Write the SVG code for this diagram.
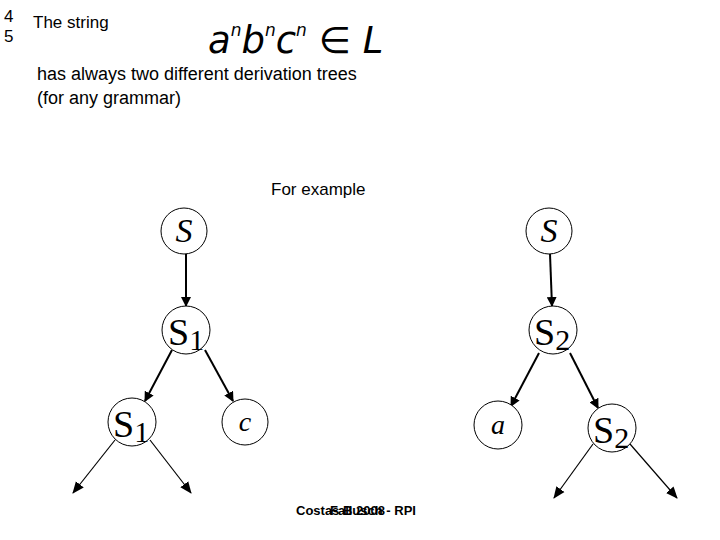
<svg xmlns="http://www.w3.org/2000/svg" width="720" height="540" viewBox="0 0 720 540">
<style>
.t{font-family:"Liberation Sans",Arial,sans-serif;font-size:18px;fill:#000}
.n{fill:#fff;stroke:#000;stroke-width:1}
.m{font-family:"Liberation Serif","Times New Roman",serif;font-style:italic;fill:#000;text-anchor:middle}
.s{font-family:"Liberation Serif","Times New Roman",serif;fill:#000}
.e{stroke:#000;stroke-width:2;fill:none;marker-end:url(#ah)}
.f{stroke:#000;stroke-width:1.2;fill:none;marker-end:url(#ah2)}
.ft{font-family:"Liberation Sans",Arial,sans-serif;font-size:13px;fill:#000;font-weight:bold}
</style>
<defs>
<marker id="ah" markerWidth="10" markerHeight="10" refX="9" refY="5" orient="auto" markerUnits="userSpaceOnUse" viewBox="0 0 10 10"><path d="M0,0 L10,5 L0,10 z" fill="#000"/></marker>
<marker id="ah2" markerWidth="12" markerHeight="12" refX="11" refY="6" orient="auto" markerUnits="userSpaceOnUse" viewBox="0 0 12 12"><path d="M0,1 L12,6 L0,11 z" fill="#000"/></marker>
</defs>
<rect width="720" height="540" fill="#fff"/>
<text class="t" x="4" y="22" style="font-size:17px">4</text>
<text class="t" x="4" y="42" style="font-size:17px">5</text>
<text class="t" x="33" y="28" style="font-size:17px">The string</text>
<text x="208" y="53" style="font-family:'DejaVu Sans',sans-serif;font-size:37px;font-style:italic">a<tspan font-size="17" dy="-17">n</tspan><tspan dy="17">b</tspan><tspan font-size="17" dy="-17">n</tspan><tspan dy="17">c</tspan><tspan font-size="17" dy="-17">n</tspan><tspan dy="17" font-style="normal"> ∈ </tspan>L</text>
<text class="t" x="37" y="80">has always two different derivation trees</text>
<text class="t" x="37" y="104">(for any grammar)</text>
<text class="t" x="271" y="195" style="font-size:17px">For example</text>
<g id="connectors">
<line class="e" x1="186" y1="254" x2="186" y2="306"/>
<line class="e" x1="172" y1="350" x2="145" y2="401"/>
<line class="e" x1="205" y1="350" x2="233" y2="401"/>
<line class="f" x1="115" y1="440" x2="73" y2="493"/>
<line class="f" x1="150" y1="440" x2="191" y2="493"/>
<line class="e" x1="550" y1="254" x2="552" y2="306"/>
<line class="e" x1="539" y1="353" x2="511" y2="406"/>
<line class="e" x1="570" y1="353" x2="598" y2="408"/>
<line class="f" x1="593" y1="444" x2="554" y2="498"/>
<line class="f" x1="630" y1="444" x2="677" y2="498"/>
</g>
<g id="L_S"><circle class="n" cx="184" cy="231" r="23"/><text class="m" x="184" y="242" font-size="34">S</text></g>
<g id="L_S1"><circle class="n" cx="186" cy="330" r="24"/><text class="s" x="168" y="345" font-size="38">S<tspan font-size="30" dy="5">1</tspan></text></g>
<g id="L_S1b"><circle class="n" cx="132" cy="422" r="24"/><text class="s" x="113" y="437" font-size="38">S<tspan font-size="30" dy="5">1</tspan></text></g>
<g id="L_c"><circle class="n" cx="245" cy="422" r="23"/><text class="m" x="245" y="431" font-size="28">c</text></g>
<g id="R_S"><circle class="n" cx="549" cy="231" r="23"/><text class="m" x="549" y="242" font-size="34">S</text></g>
<g id="R_S2"><circle class="n" cx="553" cy="330" r="24"/><text class="s" x="534" y="345" font-size="38">S<tspan font-size="30" dy="5">2</tspan></text></g>
<g id="R_a"><circle class="n" cx="498" cy="425" r="24"/><text class="m" x="498" y="434" font-size="28">a</text></g>
<g id="R_S2b"><circle class="n" cx="612" cy="428" r="24"/><text class="s" x="593" y="443" font-size="38">S<tspan font-size="30" dy="5">2</tspan></text></g>
<text class="ft" x="296" y="515">Costas Busch - RPI</text>
<text class="ft" x="330" y="515">Fall 2008</text>
</svg>
